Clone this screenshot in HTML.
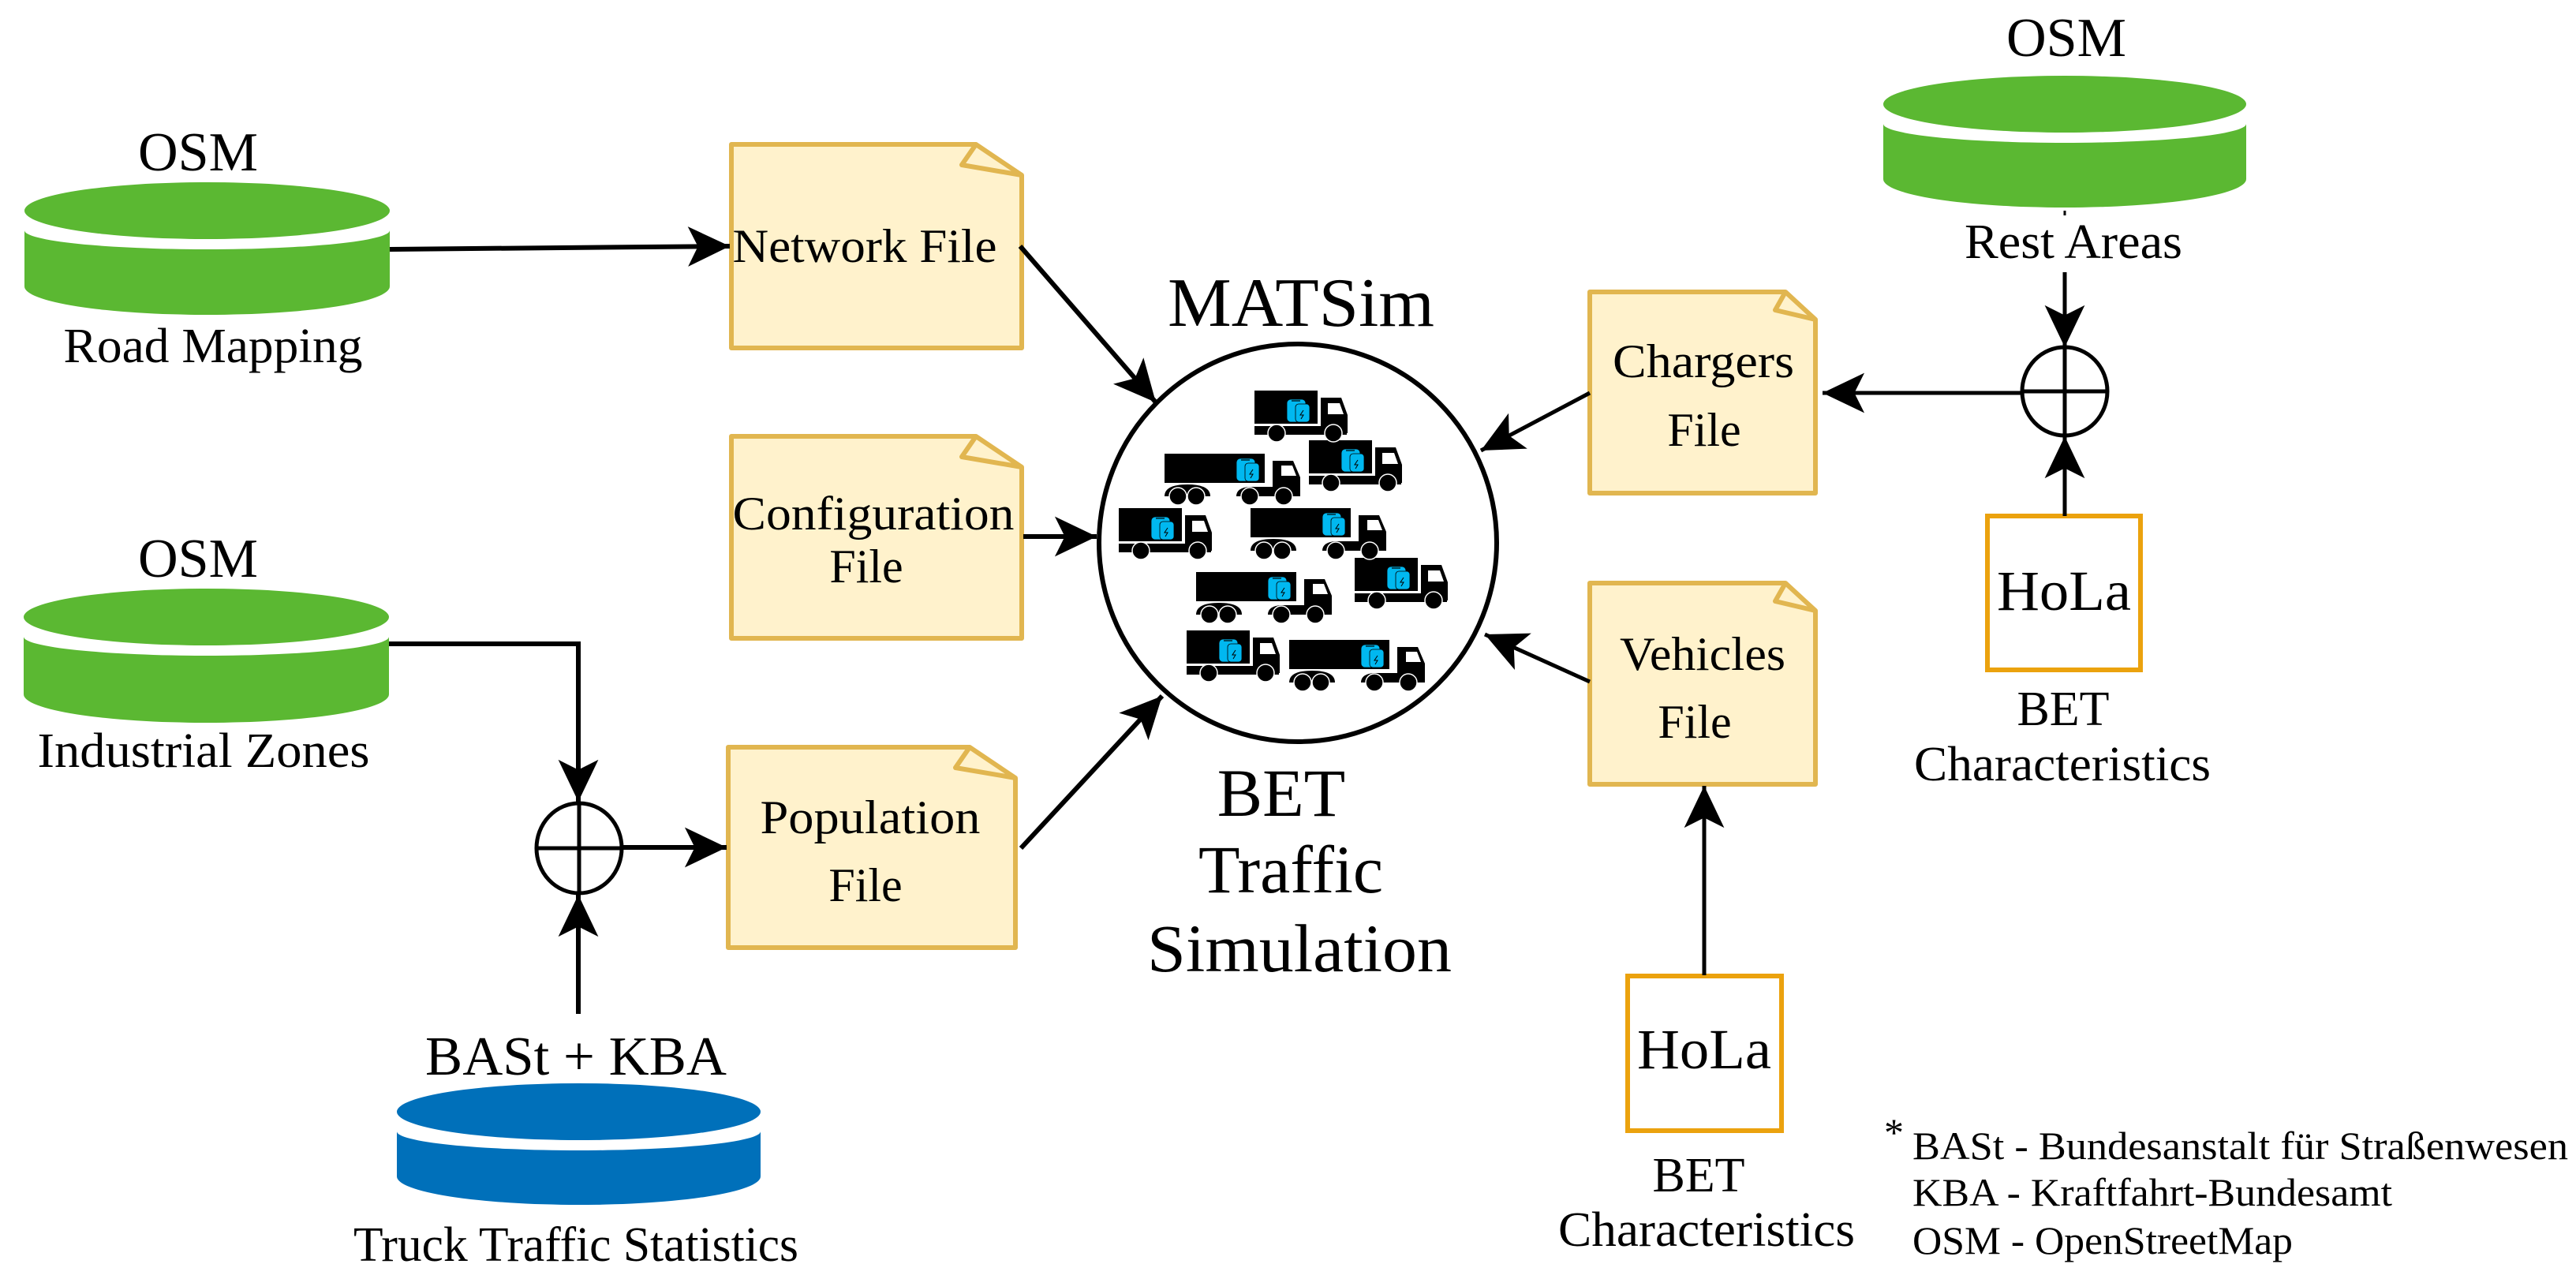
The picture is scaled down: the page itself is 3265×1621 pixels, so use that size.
<!DOCTYPE html>
<html><head><meta charset="utf-8"><style>
html,body{margin:0;padding:0;background:#fff;}
svg{display:block;}
svg text{font-family:"Liberation Serif","DejaVu Serif",serif !important;fill:#000;}
</style></head><body>
<svg width="3265" height="1621" viewBox="0 0 3265 1621" xmlns="http://www.w3.org/2000/svg" font-family="'Liberation Serif', 'DejaVu Serif', serif">
<defs>
<marker id="ah" markerUnits="userSpaceOnUse" markerWidth="60" markerHeight="60" viewBox="-2 -26 52 52" refX="46" refY="0" orient="auto">
<path d="M0,-22 L46,0 L0,22 L11,0 Z" fill="#000"/>
</marker>
<g id="bat">
<rect x="0" y="0" width="24" height="29" rx="5" fill="#00B8F0" stroke="#000" stroke-width="0.8"/>
<rect x="11" y="6" width="18" height="23" rx="4" fill="#00B8F0" stroke="#000" stroke-width="0.8"/>
<line x1="6" y1="2" x2="17" y2="2" stroke="#000" stroke-width="1.2"/>
<path d="M21,14 L17,20 L21,20 L18,25" stroke="#000" stroke-width="1" fill="none"/>
</g>
<g id="rigid">
<rect x="0" y="0" width="80" height="42" fill="#000"/>
<path d="M0,45 H117 V56 H0 Z" fill="#000"/>
<path d="M84,9 H110 L118,31 V54 H84 Z" fill="#000"/>
<path d="M93,16 H108 L113,30 H93 Z" fill="#fff"/>
<circle cx="28" cy="54" r="11" fill="#000" stroke="#fff" stroke-width="1.5"/>
<circle cx="100" cy="54" r="11" fill="#000" stroke="#fff" stroke-width="1.5"/>
<use href="#bat" x="41" y="11"/>
</g>
<g id="artic">
<rect x="0" y="0" width="127" height="37" fill="#000"/>
<path d="M0,54 Q0,39 29,39 Q58,39 58,54 Z" fill="#000"/>
<path d="M91,54 Q91,43 108,42 H137 V9 H163 L172,30 V54 Z" fill="#000"/>
<path d="M148,15 H162 L167,28 H148 Z" fill="#fff"/>
<circle cx="17" cy="54" r="11" fill="#000" stroke="#fff" stroke-width="1.5"/>
<circle cx="40" cy="54" r="11" fill="#000" stroke="#fff" stroke-width="1.5"/>
<circle cx="108" cy="54" r="11" fill="#000" stroke="#fff" stroke-width="1.5"/>
<circle cx="151" cy="54" r="11" fill="#000" stroke="#fff" stroke-width="1.5"/>
<use href="#bat" x="91" y="6"/>
</g>
</defs>

<g fill="#5BB832">
<path d="M31,292 A231.5,24 0 0 0 494,292 V363 A231.5,36 0 0 1 31,363 Z"/>
<ellipse cx="262.5" cy="267" rx="231.5" ry="36"/>
<path d="M30,807 A231.5,24 0 0 0 493,807 V880 A231.5,36 0 0 1 30,880 Z"/>
<ellipse cx="261.5" cy="782" rx="231.5" ry="36"/>
<path d="M2387,157 A230,24 0 0 0 2847,157 V227 A230,36 0 0 1 2387,227 Z"/>
<ellipse cx="2617" cy="132" rx="230" ry="36"/>
</g>
<g fill="#0070BA">
<path d="M503,1434 A230.5,24 0 0 0 964,1434 V1491 A230.5,36 0 0 1 503,1491 Z"/>
<ellipse cx="733.5" cy="1409" rx="230.5" ry="36"/>
</g>

<g fill="#FFF2CC" stroke="#E1B650" stroke-width="6" stroke-linejoin="round">
<path d="M927,183 H1237 L1295,222 V441 H927 Z"/><path d="M1237,183 L1219,209 L1295,222" fill="none"/>
<path d="M927,553 H1237 L1295,592 V809 H927 Z"/><path d="M1237,553 L1219,579 L1295,592" fill="none"/>
<path d="M923,947 H1229 L1287,986 V1201 H923 Z"/><path d="M1229,947 L1211,973 L1287,986" fill="none"/>
<path d="M2015,370 H2263 L2301,405 V625 H2015 Z"/><path d="M2263,370 L2250,393 L2301,405" fill="none"/>
<path d="M2015,739 H2263 L2301,774 V994 H2015 Z"/><path d="M2263,739 L2250,762 L2301,774" fill="none"/>
</g>

<g fill="#fff" stroke="#EBA20E" stroke-width="6">
<rect x="2519" y="654" width="194" height="195"/>
<rect x="2063" y="1237" width="195" height="196"/>
</g>

<circle cx="1645" cy="688" r="252" fill="none" stroke="#000" stroke-width="6"/>

<g fill="none" stroke="#000" stroke-width="5">
<ellipse cx="734" cy="1075" rx="54" ry="57"/>
<line x1="734" y1="1018" x2="734" y2="1132"/><line x1="680" y1="1075" x2="788" y2="1075"/>
<ellipse cx="2617" cy="496" rx="54" ry="56"/>
<line x1="2617" y1="440" x2="2617" y2="552"/><line x1="2563" y1="496" x2="2671" y2="496"/>
</g>

<g fill="none" stroke="#000" stroke-width="6" marker-end="url(#ah)">
<path d="M494,316 L925,312"/>
<path d="M493,816 H733 V1016"/>
<path d="M733,1285 V1134"/>
<path d="M788,1074 H921"/>
<path d="M1297,680 H1390"/>
<path d="M1293,312 L1465,510"/>
<path d="M1294,1075 L1473,882"/>
</g>
<g fill="none" stroke="#000" stroke-width="5" marker-end="url(#ah)">
<path d="M2617,345 V440"/>
<path d="M2617,654 V553"/>
<path d="M2563,498 H2310"/>
<path d="M2015,498 L1877,571"/>
<path d="M2015,864 L1882,804"/>
<path d="M2160,1236 V996"/>
</g>
<line x1="2617" y1="267" x2="2617" y2="273" stroke="#000" stroke-width="3"/>

<use href="#rigid" x="1659" y="558"/>
<use href="#rigid" x="1590" y="495"/>
<use href="#artic" x="1476" y="575"/>
<use href="#rigid" x="1717" y="707"/>
<use href="#rigid" x="1418" y="644"/>
<use href="#artic" x="1585" y="644"/>
<use href="#artic" x="1516" y="725"/>
<use href="#rigid" x="1504" y="799"/>
<use href="#artic" x="1634" y="811"/>

<g text-anchor="middle" font-family="'Liberation Serif', 'DejaVu Serif', serif">
<text x="251" y="216" font-size="70" textLength="152" lengthAdjust="spacingAndGlyphs">OSM</text>
<text x="270" y="459" font-size="62" textLength="379" lengthAdjust="spacingAndGlyphs">Road Mapping</text>
<text x="251" y="731" font-size="70" textLength="152" lengthAdjust="spacingAndGlyphs">OSM</text>
<text x="258" y="972" font-size="62" textLength="421" lengthAdjust="spacingAndGlyphs">Industrial Zones</text>
<text x="730" y="1362" font-size="70" textLength="382" lengthAdjust="spacingAndGlyphs">BASt + KBA</text>
<text x="730" y="1598" font-size="62" textLength="564" lengthAdjust="spacingAndGlyphs">Truck Traffic Statistics</text>

<text x="1096" y="332" font-size="60" textLength="335" lengthAdjust="spacingAndGlyphs">Network File</text>
<text x="1107" y="671" font-size="60" textLength="357" lengthAdjust="spacingAndGlyphs">Configuration</text>
<text x="1098" y="738" font-size="60">File</text>
<text x="1103" y="1056" font-size="60" textLength="279" lengthAdjust="spacingAndGlyphs">Population</text>
<text x="1097" y="1142" font-size="60">File</text>

<text x="1649" y="413" font-size="88" textLength="338" lengthAdjust="spacingAndGlyphs">MATSim</text>
<text x="1624" y="1034" font-size="86">BET</text>
<text x="1636" y="1131" font-size="86">Traffic</text>
<text x="1647" y="1231" font-size="86" textLength="386" lengthAdjust="spacingAndGlyphs">Simulation</text>

<text x="2159" y="478" font-size="60" textLength="230" lengthAdjust="spacingAndGlyphs">Chargers</text>
<text x="2160" y="565" font-size="60">File</text>
<text x="2158" y="849" font-size="60" textLength="210" lengthAdjust="spacingAndGlyphs">Vehicles</text>
<text x="2148" y="935" font-size="60">File</text>

<text x="2619" y="71" font-size="70" textLength="152" lengthAdjust="spacingAndGlyphs">OSM</text>
<text x="2628" y="327" font-size="62" textLength="276" lengthAdjust="spacingAndGlyphs">Rest Areas</text>
<text x="2616" y="773" font-size="72" textLength="170" lengthAdjust="spacingAndGlyphs">HoLa</text>
<text x="2615" y="919" font-size="62">BET</text>
<text x="2614" y="989" font-size="62" textLength="376" lengthAdjust="spacingAndGlyphs">Characteristics</text>

<text x="2160" y="1354" font-size="72" textLength="170" lengthAdjust="spacingAndGlyphs">HoLa</text>
<text x="2153" y="1510" font-size="62">BET</text>
<text x="2163" y="1579" font-size="62" textLength="376" lengthAdjust="spacingAndGlyphs">Characteristics</text>
</g>
<g font-family="'Liberation Serif', 'DejaVu Serif', serif">
<text x="2388" y="1452" font-size="50">*</text>
<text x="2424" y="1469" font-size="50" textLength="831" lengthAdjust="spacingAndGlyphs">BASt - Bundesanstalt für Straßenwesen</text>
<text x="2424" y="1528" font-size="50" textLength="608" lengthAdjust="spacingAndGlyphs">KBA - Kraftfahrt-Bundesamt</text>
<text x="2424" y="1589" font-size="50" textLength="482" lengthAdjust="spacingAndGlyphs">OSM - OpenStreetMap</text>
</g>
</svg>
</body></html>
